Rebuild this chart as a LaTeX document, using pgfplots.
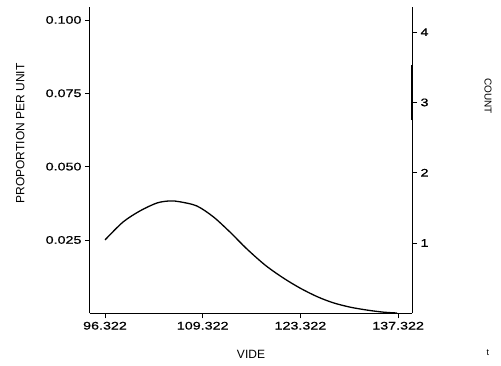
\documentclass[border=0pt]{standalone}
\usepackage{pgfplots}
\pgfplotsset{compat=1.18}
\usepackage{fontspec}
\setmainfont{Liberation Sans}
\newfontfamily\tickfont[FakeStretch=1.3,FakeBold=0.6]{Liberation Sans}
\begin{document}
\begin{tikzpicture}
\begin{axis}[name=ax1,
  scale only axis, width=322pt, height=306.3pt,
  xmin=-0.1535, xmax=3.142, ymin=0, ymax=0.1044,
  axis x line*=bottom, axis y line*=left,
  axis line style={line width=1pt, -},
  xtick={0,1,2,3}, xticklabels={96.322,109.322,123.322,137.322},
  ytick={0.025,0.05,0.075,0.1}, yticklabels={0.025,0.050,0.075,0.100},
  tick align=outside, major tick length=5pt,
  tick style={line width=0.8pt, black},
  ticklabel style={font=\tickfont\fontsize{11}{11}\selectfont},
  xlabel={VIDE},
  xlabel style={at={(axis description cs:0.5,-0.134)}, anchor=center, font=\fontsize{12}{12}\selectfont},
  ylabel={PROPORTION PER UNIT},
  ylabel style={at={(axis description cs:-0.217,0.587)}, anchor=center, font=\fontsize{12}{12}\selectfont},
  clip=false]
\addplot[black, line width=1.3pt, smooth] coordinates {
(0,0.0250) (0.184,0.0311) (0.358,0.0349) (0.532,0.0376) (0.665,0.0383)
(0.768,0.0380) (0.939,0.0366) (1.108,0.0329) (1.279,0.0277) (1.450,0.0220)
(1.640,0.0164) (1.822,0.0121) (1.996,0.0086) (2.170,0.0057) (2.334,0.0036)
(2.508,0.0021) (2.682,0.0011) (2.846,0.0004) (2.989,0.0001)};
\node[font=\fontsize{9}{9}\selectfont] at (axis description cs:1.236,-0.13) {t};
\end{axis}
\begin{axis}[
  scale only axis, width=322pt, height=306.3pt,
  xmin=-0.1535, xmax=3.142, ymin=0, ymax=4.358,
  axis x line=none, axis y line*=right,
  axis line style={line width=1pt, -},
  ytick={1,2,3,4}, yticklabels={1,2,3,4},
  tick align=outside, major tick length=5pt,
  tick style={line width=0.8pt, black},
  ticklabel style={font=\tickfont\fontsize{11}{11}\selectfont},
  ylabel={COUNT},
  ylabel style={at={(axis description cs:1.236,0.709)}, anchor=center, rotate=180, font=\fontsize{10}{10}\selectfont},
  clip=false]
\addplot[black, line width=1.8pt] coordinates {(3.142,2.75) (3.142,3.53)};
\end{axis}
\pgfresetboundingbox
\path (-90pt,-51.7pt) rectangle (411pt,313.3pt);
\end{tikzpicture}
\end{document}
